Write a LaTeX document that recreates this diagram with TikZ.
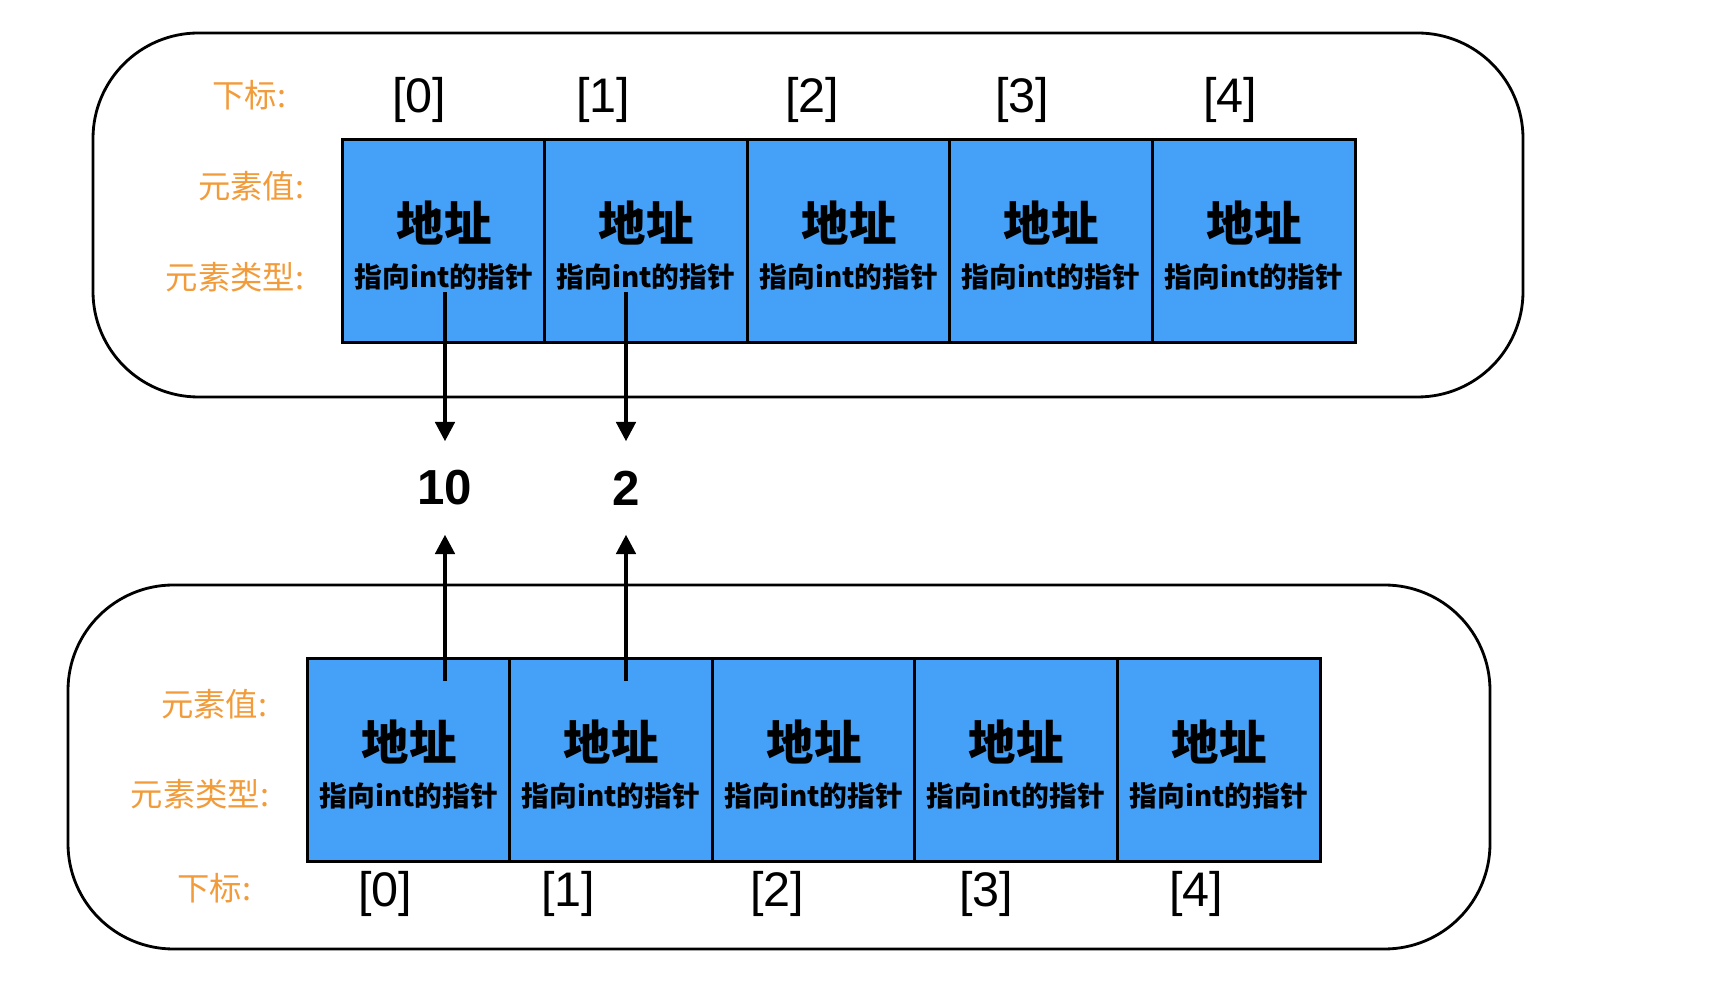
\documentclass[tikz,border=0pt]{standalone}
\usepackage{fontspec}
\setmainfont{Liberation Sans}
\newfontfamily\cjk{Noto Sans CJK SC}
\definecolor{cellblue}{HTML}{45A1F7}
\definecolor{labelorange}{HTML}{F29B3A}
\usetikzlibrary{arrows.meta}
\tikzset{
  frame/.style={draw=black, line width=0.8pt, rounded corners=30pt},
  cell/.style={
    draw=black, fill=cellblue, line width=0.9pt, outer sep=0pt,
    minimum width=2.024cm, minimum height=2.03cm, inner sep=0pt,
    align=center, font=\cjk
  },
  idx/.style={font=\fontsize{13.8}{16}\selectfont, inner sep=0pt},
  lbl/.style={font=\cjk\fontsize{9.2}{11}\selectfont, text=labelorange, anchor=east, inner sep=0pt},
  num/.style={font=\bfseries\fontsize{14}{16}\selectfont, minimum height=0.92cm, inner sep=0pt},
  arr/.style={-{Triangle[length=5.5pt,width=5.5pt]}, line width=1.1pt},
}
\newcommand{\celltext}{\rule{0pt}{14pt}{\bfseries\fontsize{13.5}{16}\selectfont 地址}\\[1pt]{\bfseries\fontsize{7.9}{10}\selectfont 指向int的指针}}

\begin{document}
\begin{tikzpicture}[x=0.01cm, y=-0.01cm]
    \useasboundingbox (0,0) rectangle (1730,986);

    % upper array
    \draw[frame] (93,33) rectangle (1523,397);
    \node[lbl] (tlidx) at (287,95) {下标:};
    \node[lbl] (tlval) at (305,186) {元素值:};
    \node[lbl] (tltyp) at (305,277) {元素类型:};

    \node[idx] (ti0) at (419,100) {[0]};
    \node[idx] (ti1) at (603,100) {[1]};
    \node[idx] (ti2) at (812,100) {[2]};
    \node[idx] (ti3) at (1022,100) {[3]};
    \node[idx] (ti4) at (1230,100) {[4]};

    \node[cell] (tc0) at (444,241) {\celltext};
    \node[cell] (tc1) at (646,241) {\celltext};
    \node[cell] (tc2) at (849,241) {\celltext};
    \node[cell] (tc3) at (1051,241) {\celltext};
    \node[cell] (tc4) at (1254,241) {\celltext};

    % pointed values
    \node[num] (v10) at (445,488) {10};
    \node[num] (v2) at (626,488) {2};

    % lower array
    \draw[frame] (68,585) rectangle (1490,949);
    \node[lbl] (blval) at (268,704) {元素值:};
    \node[lbl] (bltyp) at (270,794) {元素类型:};
    \node[lbl] (blidx) at (252,888) {下标:};

    \node[cell] (bc0) at (409,760) {\celltext};
    \node[cell] (bc1) at (611,760) {\celltext};
    \node[cell] (bc2) at (814,760) {\celltext};
    \node[cell] (bc3) at (1016,760) {\celltext};
    \node[cell] (bc4) at (1219,760) {\celltext};

    \node[idx] (bi0) at (385,894) {[0]};
    \node[idx] (bi1) at (568,894) {[1]};
    \node[idx] (bi2) at (777,894) {[2]};
    \node[idx] (bi3) at (986,894) {[3]};
    \node[idx] (bi4) at (1196,894) {[4]};

    \coordinate (tp0) at (445,292);
    \coordinate (tp1) at (626,292);
    \coordinate (bp0) at (445,681);
    \coordinate (bp1) at (626,681);
    \draw[arr] (tp0) -- (v10);
    \draw[arr] (tp1) -- (v2);
    \draw[arr] (bp0) -- (v10);
    \draw[arr] (bp1) -- (v2);
\end{tikzpicture}
\end{document}
